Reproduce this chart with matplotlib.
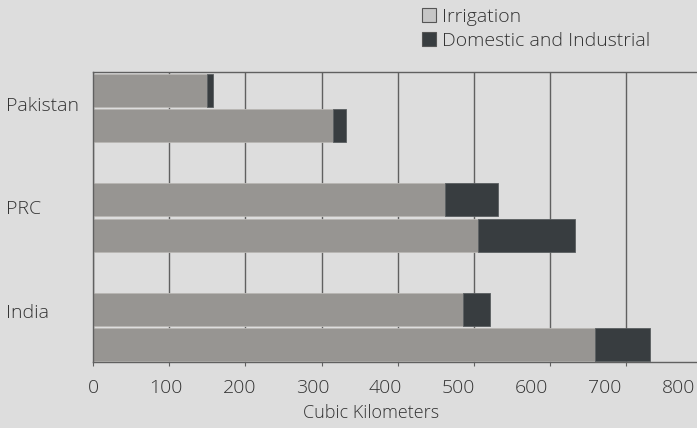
import numpy as np
from matplotlib import pyplot as plt
from matplotlib.patches import Patch
from matplotlib.transforms import ScaledTranslation

plt.rcParams['font.family'] = ['Open Sans', 'DejaVu Sans']
plt.rcParams['font.weight'] = 'light'
plt.rcParams['axes.labelweight'] = 'light'

#---- Data (cubic kilometers)

countries = ['India', 'PRC', 'Pakistan']
# first (upper) and second (lower) bar of each country
irrigation_upper = [485, 462, 149]
domestic_upper = [36, 70, 8]
irrigation_lower = [659, 505, 315]
domestic_lower = [72, 128, 17]

xticks = [0, 100, 200, 300, 400, 500, 600, 700, 800]

#---- Styles

bg = '#dddddd'
c_irr = '#979592'
c_dom = '#383d40'
c_txt = '#333333'
c_grid = '#606060'

fig = plt.figure(figsize=(6.97, 4.28), dpi=100)
fig.patch.set_facecolor(bg)
ax = fig.add_axes([93/697, 1-362/428, 1-93/697, (362-72)/428])
ax.set_facecolor(bg)

y = np.arange(len(countries))
h = 0.3
off = 0.16

ax.barh(y + off, irrigation_upper, height=h, color=c_irr, edgecolor='#b8b6b3', lw=0.6)
ax.barh(y + off, domestic_upper, left=irrigation_upper, height=h, color=c_dom, edgecolor='#5a5e60', lw=0.6)
ax.barh(y - off, irrigation_lower, height=h, color=c_irr, edgecolor='#b8b6b3', lw=0.6)
ax.barh(y - off, domestic_lower, left=irrigation_lower, height=h, color=c_dom, edgecolor='#5a5e60', lw=0.6)

ax.set_xlim(0, (697-93)/0.762)
ax.set_ylim(-0.315, 2.325)

# vertical grid
ax.set_xticks(xticks[:-1])
ax.xaxis.grid(True, color=c_grid, lw=1.0)
ax.set_axisbelow(True)
ax.tick_params(axis='x', length=3, color=c_grid, labelbottom=False)

for s in ['left', 'top', 'bottom']:
    ax.spines[s].set_color(c_grid)
    ax.spines[s].set_linewidth(1.0)
ax.spines['right'].set_visible(False)

# tick labels sit slightly left of the gridlines in the original
sec = ax.secondary_xaxis('bottom', functions=(lambda v: v/0.96, lambda v: v*0.96))
sec.set_xticks(xticks)
sec.set_xticklabels([str(t) for t in xticks])
sec.tick_params(length=0, pad=12, labelsize=14, labelcolor=c_txt)
sec.spines['bottom'].set_visible(False)

ax.set_xlabel('Cubic Kilometers', fontsize=13, color=c_txt, fontweight='light')
ax.xaxis.set_label_coords(0.46, -0.145)

ax.set_yticks(y)
ax.set_yticklabels(countries, ha='left')
ax.tick_params(axis='y', length=0, pad=63, labelsize=14, labelcolor=c_txt)
# country names sit a little above the group centres in the original
for lab, dy in zip(ax.get_yticklabels(), [16, 11, 4]):
    lab.set_transform(lab.get_transform() + ScaledTranslation(0, dy/100, fig.dpi_scale_trans))

handles = [Patch(facecolor='#c6c6c6', edgecolor='#555555', lw=0.8, label='Irrigation'),
           Patch(facecolor=c_dom, edgecolor='#555555', lw=0.8, label='Domestic and Industrial')]
fig.legend(handles=handles, loc='upper left', bbox_to_anchor=(420/697, 1 - 6/428), frameon=False,
           fontsize=14, labelcolor=c_txt, handlelength=0.7, handleheight=0.7,
           handletextpad=0.35, labelspacing=0.3, borderaxespad=0.0, borderpad=0.1)

plt.savefig('out.png', dpi=100, facecolor=bg)
